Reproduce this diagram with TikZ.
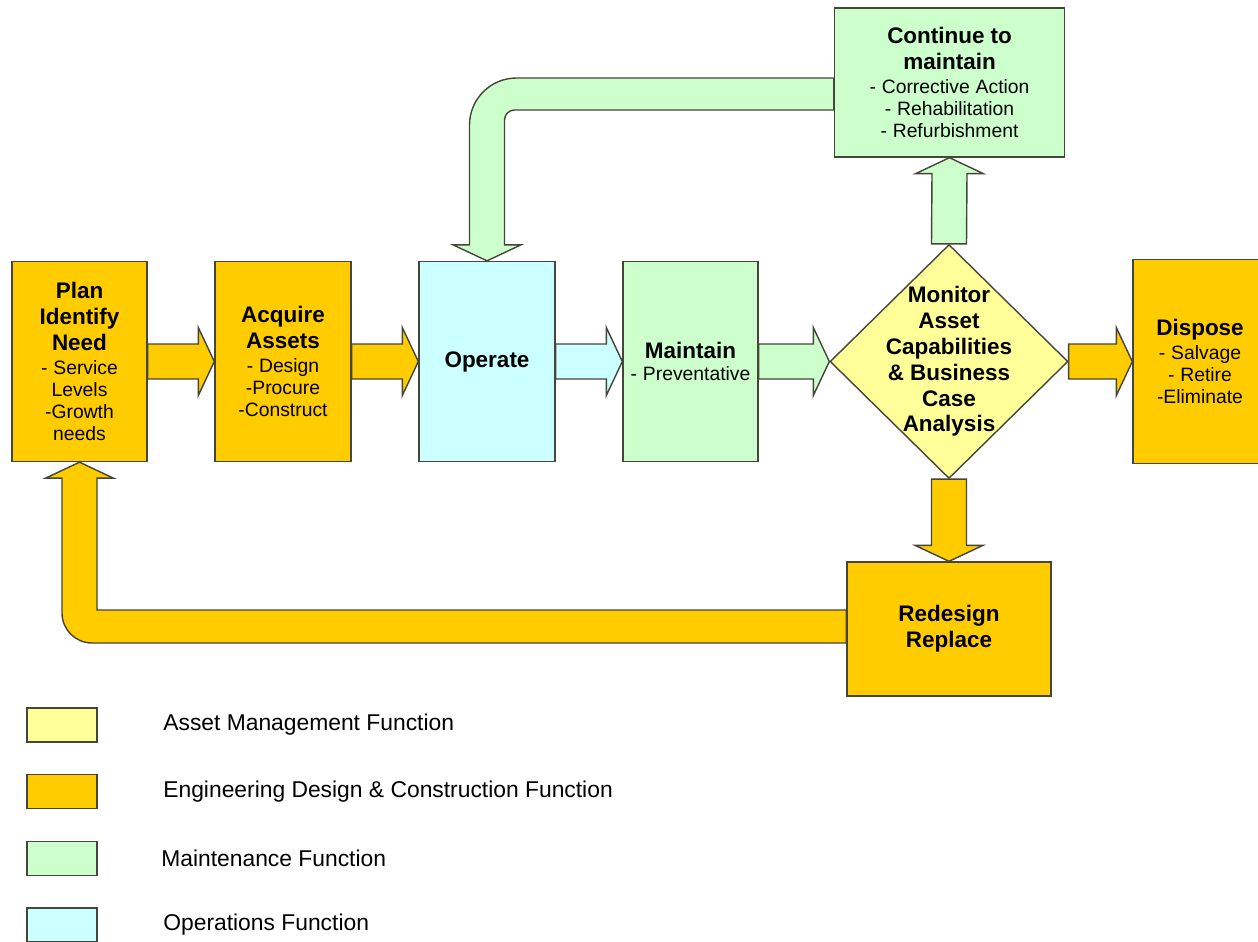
\documentclass[tikz,border=0pt]{standalone}
\usepackage{fontspec}
\setmainfont{Liberation Sans}
\usetikzlibrary{shapes.geometric,calc}
\definecolor{gold}{HTML}{FFCC00}
\definecolor{mint}{HTML}{CCFFCC}
\definecolor{aqua}{HTML}{CCFFFF}
\definecolor{lemon}{HTML}{FFFF99}
\definecolor{edge}{HTML}{45453A}
\newcommand{\headf}{\fontsize{12.8}{14.7}\selectfont\bfseries}
\newcommand{\subf}{\fontsize{11}{12.5}\selectfont}
\tikzset{
  rarr/.style={to path={($(\tikztostart)+(0,-17.5)$) -- ($(\tikztotarget)+(-16,-17.5)$) -- ($(\tikztotarget)+(-16,-34)$) -- (\tikztotarget) -- ($(\tikztotarget)+(-16,34)$) -- ($(\tikztotarget)+(-16,17.5)$) -- ($(\tikztostart)+(0,17.5)$) -- cycle}},
  uarr/.style={to path={($(\tikztostart)+(-17.5,0)$) -- ($(\tikztotarget)+(-17.5,16)$) -- ($(\tikztotarget)+(-34,16)$) -- (\tikztotarget) -- ($(\tikztotarget)+(34,16)$) -- ($(\tikztotarget)+(17.5,16)$) -- ($(\tikztostart)+(17.5,0)$) -- cycle}},
  darr/.style={to path={($(\tikztostart)+(-17.5,0)$) -- ($(\tikztotarget)+(-17.5,-16)$) -- ($(\tikztotarget)+(-34,-16)$) -- (\tikztotarget) -- ($(\tikztotarget)+(34,-16)$) -- ($(\tikztotarget)+(17.5,-16)$) -- ($(\tikztostart)+(17.5,0)$) -- cycle}}
}
\begin{document}
\begin{tikzpicture}[x=0.02cm, y=-0.02cm,
  blk/.style={draw=edge, line width=.8pt, fill=#1, align=center, inner sep=0pt, text width=2.5cm},
  pipe/.style={fill=#1, draw=edge, line width=.8pt},
  lg/.style={draw=edge, line width=.8pt, fill=#1, minimum width=1.4cm, minimum height=0.68cm, inner sep=0pt},
  lgtext/.style={anchor=west, inner sep=0pt, font=\fontsize{13}{15}\selectfont}]
\useasboundingbox (0,0) rectangle (1258,941);
% main row
\node[blk=gold, minimum width=2.7cm, minimum height=4cm] (plan) at (79.5,361.5)
  {{\headf Plan\\Identify\\Need\par}\vskip1pt\subf - Service\\Levels\\-Growth\\needs\par};
\node[blk=gold, minimum width=2.72cm, minimum height=4cm] (acq) at (283,361.5)
  {{\headf Acquire\\Assets\par}\vskip1pt\subf - Design\\-Procure\\-Construct\par};
\node[blk=aqua, minimum width=2.72cm, minimum height=4cm] (op) at (487,361.5) {\headf Operate\par};
\node[blk=mint, minimum width=2.7cm, minimum height=4cm] (mnt) at (690.5,361.5)
  {{\headf Maintain\par}\subf - Preventative\par};
\node[diamond, draw=edge, line width=.8pt, fill=lemon, inner sep=0pt, minimum width=4.76cm, minimum height=4.68cm] (mon) at (949,361.5) {};
\node[align=center, inner sep=0pt, text width=3.2cm] (montext) at (mon.center)
  {\headf Monitor\\Asset\\Capabilities\\\& Business\\Case\\Analysis\par};
\node[blk=gold, minimum width=2.68cm, minimum height=4.08cm] (disp) at (1200,361.5)
  {{\headf Dispose\par}\vskip1pt\subf - Salvage\\- Retire\\-Eliminate\par};
% top and bottom boxes
\node[blk=mint, text width=4.4cm, minimum width=4.6cm, minimum height=2.98cm] (cont) at (949.5,82.5)
  {{\headf Continue to\\maintain\par}\vskip1pt\subf - Corrective Action\\- Rehabilitation\\- Refurbishment\par};
\node[blk=gold, text width=3.8cm, minimum width=4.08cm, minimum height=2.68cm] (red) at (949,629)
  {\headf Redesign\\Replace\par};
% straight arrows
\path[pipe=gold] (plan.east) to[rarr] (acq.west);
\path[pipe=gold] (acq.east) to[rarr] (op.west);
\path[pipe=aqua] (op.east) to[rarr] (mnt.west);
\path[pipe=mint] (mnt.east) to[rarr] (mon.west);
\path[pipe=gold] (mon.east) to[rarr] (disp.west);
\path[pipe=mint] (mon.north) to[uarr] (cont.south);
\path[pipe=gold] (mon.south) to[darr] (red.north);
% bent arrows
\coordinate (ct) at ($(cont.west)+(0,-4.5)$);
\coordinate (cb) at ($(cont.west)+(0,27.5)$);
\coordinate (ob) at ($(op.north)+(0,-16)$);
\path[pipe=mint] (ct) -- ($(ob |- ct)+(29.5,0)$) arc[start angle=90, end angle=180, radius=0.94cm]
  -- ($(ob)+(-17.5,0)$) -- ($(ob)+(-34,0)$) -- (op.north) -- ($(ob)+(34,0)$) -- ($(ob)+(17.5,0)$)
  -- ($(ob |- cb)+(17.5,10)$) arc[start angle=180, end angle=90, radius=0.2cm] -- (cb) -- cycle;
\coordinate (rt) at ($(red.west)+(0,-19)$);
\coordinate (rb) at ($(red.west)+(0,14)$);
\coordinate (pb) at ($(plan.south)+(0,16)$);
\path[pipe=gold] (rb) -- ($(pb |- rb)+(12.5,0)$) arc[start angle=270, end angle=180, radius=0.6cm]
  -- ($(pb)+(-17.5,0)$) -- ($(pb)+(-34,0)$) -- (plan.south) -- ($(pb)+(34,0)$) -- ($(pb)+(17.5,0)$)
  -- ($(pb |- rt)+(17.5,0)$) -- (rt) -- cycle;
% legend
\node[lg=lemon] (k1) at (62,725) {};
\node[lg=gold] (k2) at (62,791.5) {};
\node[lg=mint] (k3) at (62,858.5) {};
\node[lg=aqua] (k4) at (62,925) {};
\node[lgtext] (k1t) at (163,725) {Asset Management Function};
\node[lgtext] (k2t) at (163,791.5) {Engineering Design \& Construction Function};
\node[lgtext] (k3t) at (161,858.5) {Maintenance Function};
\node[lgtext] (k4t) at (163,925) {Operations Function};
\end{tikzpicture}
\end{document}
